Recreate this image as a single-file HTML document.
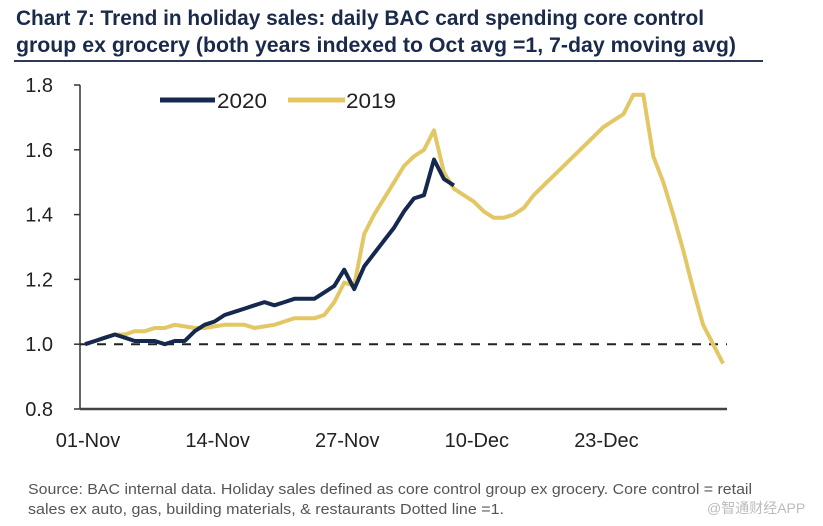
<!DOCTYPE html>
<html><head><meta charset="utf-8"><style>
html,body{margin:0;padding:0;background:#fff;width:823px;height:526px;overflow:hidden}
svg{display:block}
</style></head><body>
<svg width="823" height="526" viewBox="0 0 823 526" font-family="'Liberation Sans Narrow','Liberation Sans',sans-serif">
<text x="16" y="25" font-size="21" font-weight="bold" fill="#1a2a4a" textLength="688" lengthAdjust="spacingAndGlyphs">Chart 7: Trend in holiday sales: daily BAC card spending core control</text>
<text x="16" y="52" font-size="21" font-weight="bold" fill="#1a2a4a" textLength="720" lengthAdjust="spacingAndGlyphs">group ex grocery (both years indexed to Oct avg =1, 7-day moving avg)</text>
<line x1="14" y1="61" x2="763" y2="61" stroke="#2b3a5a" stroke-width="2"/>
<g id="axes"></g>
<g id="plot"></g>
<g>
<line x1="160" y1="100" x2="215" y2="100" stroke="#15284d" stroke-width="5"/>
<text x="217" y="108" font-size="21" fill="#222" textLength="50" lengthAdjust="spacingAndGlyphs">2020</text>
<line x1="288" y1="100" x2="345" y2="100" stroke="#e3c765" stroke-width="5"/>
<text x="346" y="108" font-size="21" fill="#222" textLength="50" lengthAdjust="spacingAndGlyphs">2019</text>
</g>
<text x="28" y="494" font-size="15" fill="#555" textLength="724" lengthAdjust="spacingAndGlyphs">Source: BAC internal data. Holiday sales defined as core control group ex grocery. Core control = retail</text>
<text x="28" y="514" font-size="15" fill="#555" textLength="476" lengthAdjust="spacingAndGlyphs">sales ex auto, gas, building materials, &amp; restaurants Dotted line =1.</text>
<text x="707" y="513" font-size="14" fill="#bbb" font-family="'Liberation Sans','Noto Sans CJK SC',sans-serif">@智通财经APP</text>
</svg>
<script>
const yTicks=[0.8,1.0,1.2,1.4,1.6,1.8];
const yTickLabels=["0.8","1.0","1.2","1.4","1.6","1.8"];
const xTickDays=[0,13,26,39,52];
const xTickLabels=["01-Nov","14-Nov","27-Nov","10-Dec","23-Dec"];
const series2020=[1.00,1.01,1.02,1.03,1.02,1.01,1.01,1.01,1.00,1.01,1.01,1.04,1.06,1.07,1.09,1.10,1.11,1.12,1.13,1.12,1.13,1.14,1.14,1.14,1.16,1.18,1.23,1.17,1.24,1.28,1.32,1.36,1.41,1.45,1.46,1.57,1.51,1.49];
const series2019=[1.00,1.01,1.02,1.03,1.03,1.04,1.04,1.05,1.05,1.06,1.055,1.05,1.05,1.055,1.06,1.06,1.06,1.05,1.055,1.06,1.07,1.08,1.08,1.08,1.09,1.13,1.19,1.18,1.34,1.40,1.45,1.50,1.55,1.58,1.60,1.66,1.53,1.48,1.46,1.44,1.41,1.39,1.39,1.40,1.42,1.46,1.49,1.52,1.55,1.58,1.61,1.64,1.67,1.69,1.71,1.77,1.77,1.58,1.50,1.40,1.29,1.17,1.06,1.00,0.94];
const refValue=1.0;
const NS="http://www.w3.org/2000/svg";
const x0=85,pxDay=9.97,yBase=409,yPer=(409-85)/1.0;
function xs(d){return x0+d*pxDay;}
function ys(v){return yBase-(v-0.8)*yPer;}
const axes=document.getElementById('axes'),plot=document.getElementById('plot');
function mk(tag,attrs,parent){const e=document.createElementNS(NS,tag);for(const k in attrs)e.setAttribute(k,attrs[k]);parent.appendChild(e);return e;}
let ya=mk('line',{x1:80,y1:85,x2:80,y2:409,stroke:'#333','stroke-width':1.5},axes);


let xa=mk('line',{x1:80,y1:409,x2:727,y2:409,stroke:'#444','stroke-width':2.5},axes);


yTicks.forEach((v,i)=>{
  const y=ys(v);
  const t=mk('line',{x1:74,y1:y,x2:80,y2:y,stroke:'#333','stroke-width':1.5},axes);
  
  
  const l=mk('text',{x:53,y:y+7,'font-size':20,fill:'#222','text-anchor':'end'},axes);
  l.textContent=yTickLabels[i];
  
  
});
xTickDays.forEach((d,i)=>{
  const l=mk('text',{x:xs(d)+3,y:447,'font-size':20,fill:'#222','text-anchor':'middle'},axes);
  l.textContent=xTickLabels[i];
  
  
});
const ref=mk('line',{x1:80,y1:ys(refValue),x2:727,y2:ys(refValue),stroke:'#222','stroke-width':2,'stroke-dasharray':'9,8'},plot);


function pts(arr){return arr.map((v,i)=>xs(i).toFixed(1)+','+ys(v).toFixed(1)).join(' ');}
const l19=mk('polyline',{points:pts(series2019),fill:'none',stroke:'#e3c765','stroke-width':4,'stroke-linejoin':'round'},plot);


const l20=mk('polyline',{points:pts(series2020),fill:'none',stroke:'#15284d','stroke-width':4,'stroke-linejoin':'round'},plot);


</script>
</body></html>
